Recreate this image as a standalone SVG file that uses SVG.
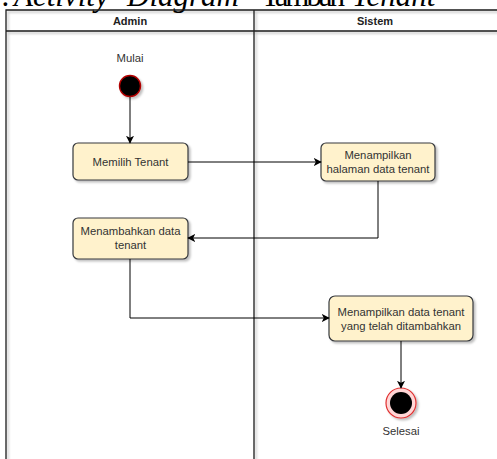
<svg xmlns="http://www.w3.org/2000/svg" width="497" height="459" viewBox="0 0 497 459">
  <defs>
    <filter id="shadow" x="-20%" y="-20%" width="140%" height="150%">
      <feDropShadow dx="2" dy="2" stdDeviation="1.2" flood-color="#000" flood-opacity="0.25"/>
    </filter>
    <marker id="arrow" viewBox="0 0 10 10" refX="9" refY="5" markerWidth="8" markerHeight="8" markerUnits="userSpaceOnUse" orient="auto">
      <path d="M0,0 L10,5 L0,10 L2.5,5 Z" fill="#000"/>
    </marker>
    <style>
      .caption { font-family: "Liberation Serif", "Times New Roman", serif; font-size: 31px; fill: #000; }
      .lane { stroke: #1e1e1e; stroke-width: 1.3; fill: none; }
      .head { font-family: "Liberation Sans", Arial, sans-serif; font-size: 11px; font-weight: bold; fill: #222; text-anchor: middle; }
      .act rect { fill: #fff2cc; stroke: #36393d; stroke-width: 1.2; }
      .label { font-family: "Liberation Sans", Arial, sans-serif; font-size: 11.3px; fill: #333; text-anchor: middle; }
      .edge { stroke: #000; stroke-width: 1; fill: none; marker-end: url(#arrow); }
    </style>
  </defs>

  <rect width="497" height="459" fill="#fff"/>

  <!-- caption above the figure, clipped by the top edge -->
  <text class="caption" x="10" y="6" text-anchor="end" font-style="italic">1.</text>
  <text class="caption" x="14" y="6" font-style="italic">Activity</text>
  <text class="caption" x="127" y="6" font-style="italic">Diagram</text>
  <text class="caption" x="261" y="6" textLength="84">Tambah</text>
  <text class="caption" x="352" y="6" font-style="italic">Tenant</text>

  <!-- swimlanes -->
  <g id="lanes">
    <g filter="url(#shadow)">
      <path class="lane" d="M6,459 V10 H497 M6,31 H497 M254,10 V459"/>
    </g>
    <text class="head" x="130" y="25">Admin</text>
    <text class="head" x="375" y="25">Sistem</text>
  </g>

  <!-- start state -->
  <g id="mulai">
    <text class="label" x="130" y="62">Mulai</text>
    <circle cx="130" cy="86" r="10.5" fill="#000" stroke="#b00000" stroke-width="1.4" filter="url(#shadow)"/>
  </g>

  <!-- activities -->
  <g id="memilih-tenant" class="act">
    <rect x="73" y="143" width="115" height="37" rx="5" filter="url(#shadow)"/>
    <text class="label" x="130.5" y="165.5">Memilih Tenant</text>
  </g>

  <g id="menampilkan-halaman" class="act">
    <rect x="321" y="143" width="114" height="38" rx="5" filter="url(#shadow)"/>
    <text class="label" x="378" y="159">Menampilkan</text>
    <text class="label" x="378" y="173">halaman data tenant</text>
  </g>

  <g id="menambahkan-data" class="act">
    <rect x="73" y="218" width="115" height="41" rx="5" filter="url(#shadow)"/>
    <text class="label" x="130.5" y="235">Menambahkan data</text>
    <text class="label" x="130.5" y="249">tenant</text>
  </g>

  <g id="menampilkan-data" class="act">
    <rect x="329" y="296" width="144" height="45" rx="6" filter="url(#shadow)"/>
    <text class="label" x="401" y="315.5">Menampilkan data tenant</text>
    <text class="label" x="401" y="329.5">yang telah ditambahkan</text>
  </g>

  <!-- end state -->
  <g id="selesai">
    <circle cx="401" cy="403" r="15" fill="#ffd6d6" stroke="#e03030" stroke-width="1.2" filter="url(#shadow)"/>
    <circle cx="401" cy="403" r="11" fill="#000"/>
    <text class="label" x="401" y="435">Selesai</text>
  </g>

  <!-- connectors -->
  <g id="connectors">
    <path class="edge" d="M130,97 V143"/>
    <path class="edge" d="M188,162 H321"/>
    <path class="edge" d="M378,181 V238 H188"/>
    <path class="edge" d="M130,259 V318 H329"/>
    <path class="edge" d="M401,341 V388"/>
  </g>
</svg>
